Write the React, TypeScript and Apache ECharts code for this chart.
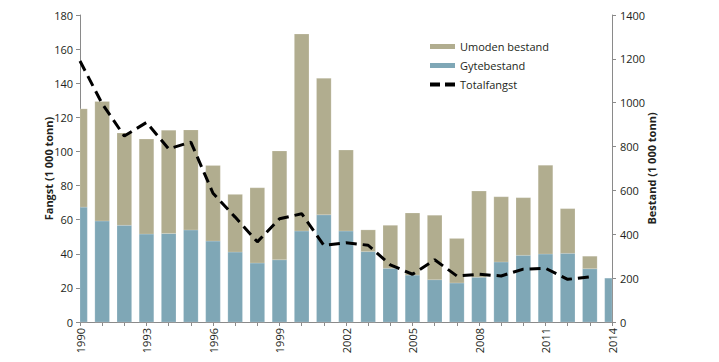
import React, { useEffect, useRef } from "react";
import * as echarts from "echarts";

const years = [
  "1990", "1991", "1992", "1993", "1994", "1995", "1996", "1997", "1998", "1999",
  "2000", "2001", "2002", "2003", "2004", "2005", "2006", "2007", "2008", "2009",
  "2010", "2011", "2012", "2013", "2014",
];

// Gytebestand (1 000 tonn), right axis
const gytebestand = [
  524, 461, 441, 401, 404, 420, 369, 319, 269, 284,
  415, 489, 415, 321, 245, 214, 193, 178, 204, 274,
  304, 310, 313, 243, 200,
];

// Umoden bestand (1 000 tonn), right axis, stacked on Gytebestand
const umodenBestand = [
  448, 545, 421, 433, 471, 456, 345, 263, 343, 496,
  898, 622, 369, 99, 196, 283, 294, 203, 393, 297,
  263, 405, 204, 57, 0,
];

// Totalfangst (1 000 tonn), left axis
const totalfangst: (number | null)[] = [
  153, 128, 109, 117, 101.5, 105.5, 75.5, 61.5, 47, 60.5,
  63.5, 45, 46.5, 45, 33.5, 28, 36.5, 27, 28, 27,
  31, 31.5, 25, 26.5, null,
];

const FONT = "'Open Sans', sans-serif";
const TEXT = "#231f20";
const AXIS = "#8a8a8a";
const BLUE = "#7fa7b6";
const KHAKI = "#b1ad8f";

// stacked bar rendered through the axes, clipped to the plot area
function makeRenderItem(color: string) {
  return (params: any, api: any) => {
    const idx = api.value(0);
    const base = api.value(1);
    const top = api.value(2);
    if (top <= base) return null;
    const p0 = api.coord([idx, base]);
    const p1 = api.coord([idx, top]);
    const bw = api.size([1, 0])[0] * 0.66;
    const cs = params.coordSys;
    let x0 = p0[0] - bw / 2;
    let x1 = p0[0] + bw / 2;
    x0 = Math.max(x0, cs.x);
    x1 = Math.min(x1, cs.x + cs.width);
    if (x1 <= x0) return null;
    return {
      type: "rect",
      shape: { x: x0, y: p1[1], width: x1 - x0, height: p0[1] - p1[1] },
      style: { fill: color, stroke: "rgba(255,255,255,0.35)", lineWidth: 0.5 },
    };
  };
}

export default function App() {
  const ref = useRef<HTMLDivElement>(null);
  useEffect(() => {
    if (!ref.current) return;
    const chart = echarts.init(ref.current, null, { renderer: "svg" });
    const labelStyle = { color: TEXT, fontFamily: FONT, fontSize: 11 };
    const gyteData = gytebestand.map((v, i) => [i, 0, v]);
    const umodenData = umodenBestand.map((v, i) => [i, gytebestand[i], gytebestand[i] + v]);
    chart.setOption({
      animation: false,
      textStyle: { fontFamily: FONT },
      grid: { left: 80, right: 107, top: 15, bottom: 40 },
      legend: {
        orient: "vertical",
        left: 425,
        top: 36,
        itemWidth: 25,
        itemHeight: 5,
        itemGap: 8,
        textStyle: { ...labelStyle, fontSize: 11 },
        data: [
          { name: "Umoden bestand", icon: "rect", itemStyle: { color: KHAKI } },
          { name: "Gytebestand", icon: "rect", itemStyle: { color: BLUE } },
          {
            name: "Totalfangst",
            icon: "path://M0,0 H10 V4 H0 Z M15,0 H25 V4 H15 Z",
            itemStyle: { color: "#000" },
          },
        ],
      },
      xAxis: {
        type: "category",
        data: years,
        boundaryGap: false,
        axisLine: { lineStyle: { color: AXIS, width: 1 } },
        axisTick: { interval: 0, length: 4, lineStyle: { color: AXIS } },
        axisLabel: { ...labelStyle, interval: 2, rotate: 90, margin: 6 },
        splitLine: { show: false },
      },
      yAxis: [
        {
          type: "value",
          min: 0,
          max: 180,
          interval: 20,
          position: "left",
          name: "Fangst (1 000 tonn)",
          nameLocation: "middle",
          nameGap: 26,
          nameMoveOverlap: false,
          nameTextStyle: { color: TEXT, fontFamily: FONT, fontSize: 11, fontWeight: "bold" },
          axisLine: { show: true, lineStyle: { color: AXIS } },
          axisTick: { show: true, length: 4, lineStyle: { color: AXIS } },
          axisLabel: { ...labelStyle, margin: 7 },
          splitLine: { show: false },
        },
        {
          type: "value",
          min: 0,
          max: 1400,
          interval: 200,
          position: "right",
          name: "Bestand (1 000 tonn)",
          nameLocation: "middle",
          nameGap: 34,
          nameMoveOverlap: false,
          nameRotate: 90,
          nameTextStyle: { color: TEXT, fontFamily: FONT, fontSize: 11, fontWeight: "bold" },
          axisLine: { show: true, lineStyle: { color: AXIS } },
          axisTick: { show: true, length: 4, lineStyle: { color: AXIS } },
          axisLabel: { ...labelStyle, margin: 8, formatter: (v: number) => String(v) },
          splitLine: { show: false },
        },
      ],
      series: [
        {
          name: "Gytebestand",
          type: "custom",
          yAxisIndex: 1,
          renderItem: makeRenderItem(BLUE),
          itemStyle: { color: BLUE },
          encode: { x: 0, y: [1, 2] },
          data: gyteData,
          z: 2,
        },
        {
          name: "Umoden bestand",
          type: "custom",
          yAxisIndex: 1,
          renderItem: makeRenderItem(KHAKI),
          itemStyle: { color: KHAKI },
          encode: { x: 0, y: [1, 2] },
          data: umodenData,
          z: 2,
        },
        {
          name: "Totalfangst",
          type: "line",
          yAxisIndex: 0,
          symbol: "none",
          showSymbol: false,
          lineStyle: { color: "#000", width: 3, type: [11, 6] },
          itemStyle: { color: "#000" },
          data: totalfangst,
          z: 5,
        },
      ],
    });
    return () => chart.dispose();
  }, []);
  return (
    <div
      ref={ref}
      style={{ position: "fixed", left: 0, top: 0, width: 719, height: 362, background: "#fff" }}
    />
  );
}
